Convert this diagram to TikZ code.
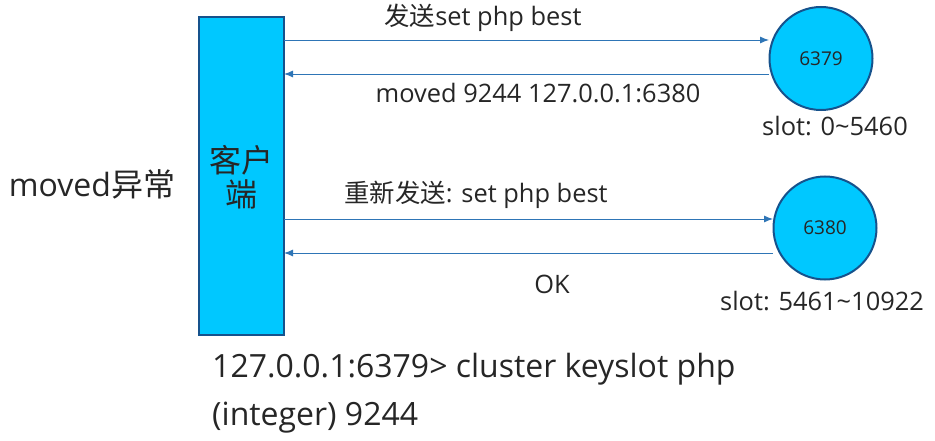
\documentclass[tikz,border=0pt]{standalone}
\usepackage{fontspec}
\setmainfont{Open Sans}
\newfontfamily\cjk{Noto Sans CJK SC}
\usetikzlibrary{arrows.meta,calc}
\definecolor{boxfill}{RGB}{0,200,255}
\definecolor{boxline}{RGB}{22,82,140}
\definecolor{arrowline}{RGB}{46,117,182}
\tikzset{
	serverbox/.style={circle, draw=boxline, fill=boxfill, line width=2pt, minimum size=103pt, inner sep=0pt, outer sep=0pt, text=black!85, font=\fontsize{19}{22}\selectfont},
	msg/.style={draw=arrowline, line width=0.9pt, -{Latex[length=9pt,width=7pt]}},
	msgtext/.style={inner sep=0pt, text=black!85, font=\fontsize{25.4}{30}\selectfont},
	bigtext/.style={inner sep=0pt, text=black!85, font=\fontsize{32}{38}\selectfont}
}

\begin{document}
\begin{tikzpicture}[x=1pt,y=-1pt]
	\useasboundingbox (0,0) rectangle (935,441);
	\node[draw=boxline, fill=boxfill, line width=2pt, minimum width=85pt, minimum height=318pt, inner sep=0pt, outer sep=0pt] (client) at (241.5,176) {};
	\node[inner sep=0pt, align=center, text=black!85, font=\cjk\fontsize{32}{34}\selectfont] (clientlabel) at (241,177) {客户\\端};
	\node[serverbox] (s6379) at (821,58.5) {6379};
	\node[serverbox] (s6380) at (825,228) {6380};

	\coordinate (a) at (769,40);
	\coordinate (b) at (769,74);
	\coordinate (c) at (773,219);
	\coordinate (d) at (773,253);
	\draw[msg] (client.east |- a) -- (a);
	\draw[msg] (b) -- (client.east |- b);
	\draw[msg] (client.east |- c) -- (c);
	\draw[msg] (d) -- (client.east |- d);

	\node[msgtext] (sendlabel) at (483,18) {{\cjk 发送}set php best};
	\node[msgtext] (movedlabel) at (538,93) {moved 9244 127.0.0.1:6380};
	\node[msgtext] (resendlabel) at (476,195) {{\cjk 重新发送}: set php best};
	\node[msgtext] (oklabel) at (552,284) {OK};
	\node[msgtext] (slota) at (835,126) {slot: 0\textasciitilde 5460};
	\node[msgtext] (slotb) at (822,301) {slot: 5461\textasciitilde 10922};

	\node[bigtext] (title) at (92,184) {moved{\cjk 异常}};
	\node[bigtext, anchor=west] (cmd) at (212,369) {127.0.0.1:6379> cluster keyslot php};
	\node[bigtext, anchor=west] (result) at (212,418) {(integer) 9244};
\end{tikzpicture}
\end{document}
